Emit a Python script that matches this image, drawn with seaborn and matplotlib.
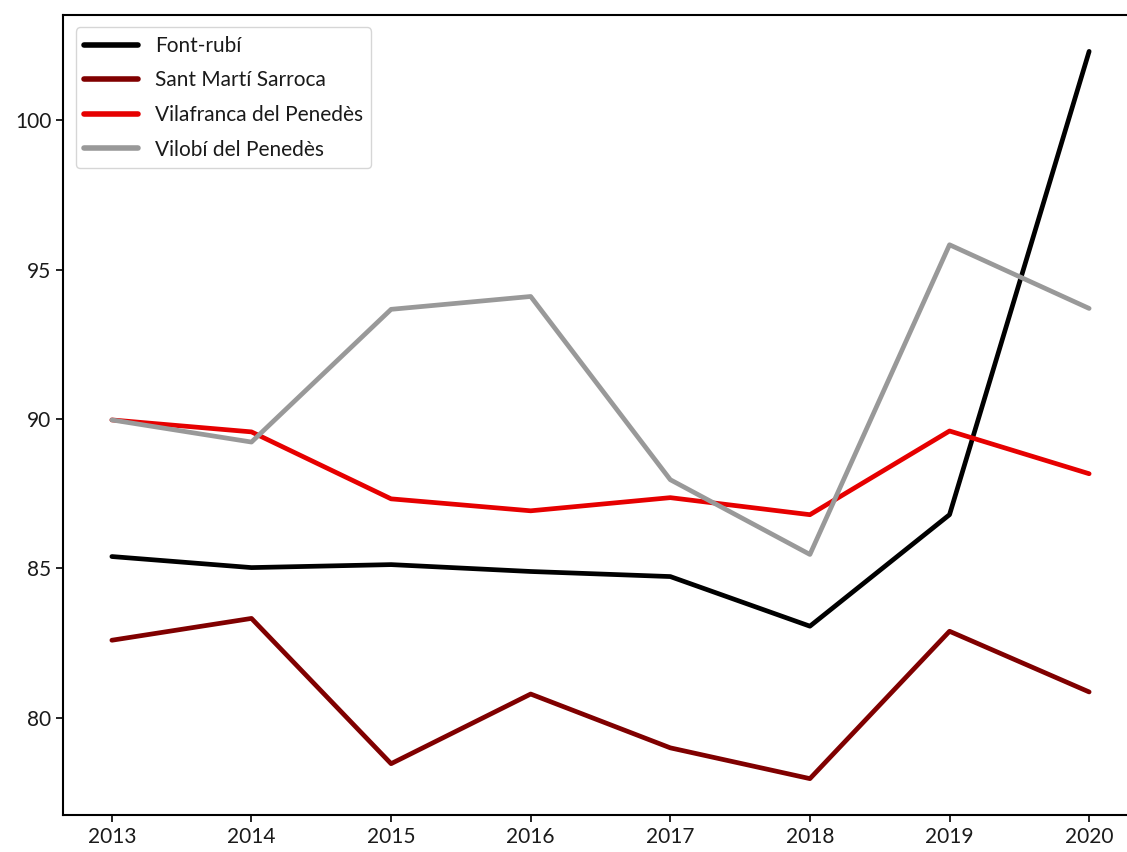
import numpy as np
import pandas as pd
import seaborn as sns
import matplotlib.pyplot as plt

# Datos
years = [2013, 2014, 2015, 2016, 2017, 2018, 2019, 2020]
font_rubi = [85.40, 85.03, 85.13, 84.90, 84.73, 83.07, 86.80, 102.30]
sant_marti = [82.60, 83.33, 78.47, 80.80, 79.00, 77.97, 82.90, 80.87]
vilafranca = [89.97, 89.57, 87.33, 86.93, 87.37, 86.80, 89.60, 88.17]
vilobi = [89.97, 89.23, 93.67, 94.10, 87.97, 85.47, 95.83, 93.70]

municipis = ['Font-rubí', 'Sant Martí Sarroca', 'Vilafranca del Penedès', 'Vilobí del Penedès']
colors = ['#000000', '#800000', '#e60000', '#999999']

df = pd.DataFrame({'any': years * 4,
                   'valor': font_rubi + sant_marti + vilafranca + vilobi,
                   'municipi': np.repeat(municipis, len(years))})

sns.set_style('white')
plt.rcParams['font.family'] = ['Lato', 'DejaVu Sans']
plt.rcParams['text.color'] = '#1a1a1a'

fig = plt.figure(figsize=(11.27, 8.52), dpi=100)
ax = fig.add_axes([63 / 1127, 1 - 815 / 852, 1075 / 1127, 800 / 852])
sns.lineplot(data=df, x='any', y='valor', hue='municipi', palette=colors,
             linewidth=3.4, ax=ax)

ax.set_xlabel('')
ax.set_ylabel('')
ax.set_xticks(years)
ax.tick_params(axis='both', labelsize=15, length=5, width=1.2, color='black',
               labelcolor='#1a1a1a', bottom=True, left=True)
for s in ax.spines.values():
    s.set_color('black')
    s.set_linewidth(1.5)
leg = ax.legend(loc='upper left', fontsize=15, frameon=True, handlelength=2.6,
                labelspacing=0.7, borderaxespad=0.6)
for h in leg.get_lines():
    h.set_linewidth(4)

plt.savefig('out.png', dpi=100)
